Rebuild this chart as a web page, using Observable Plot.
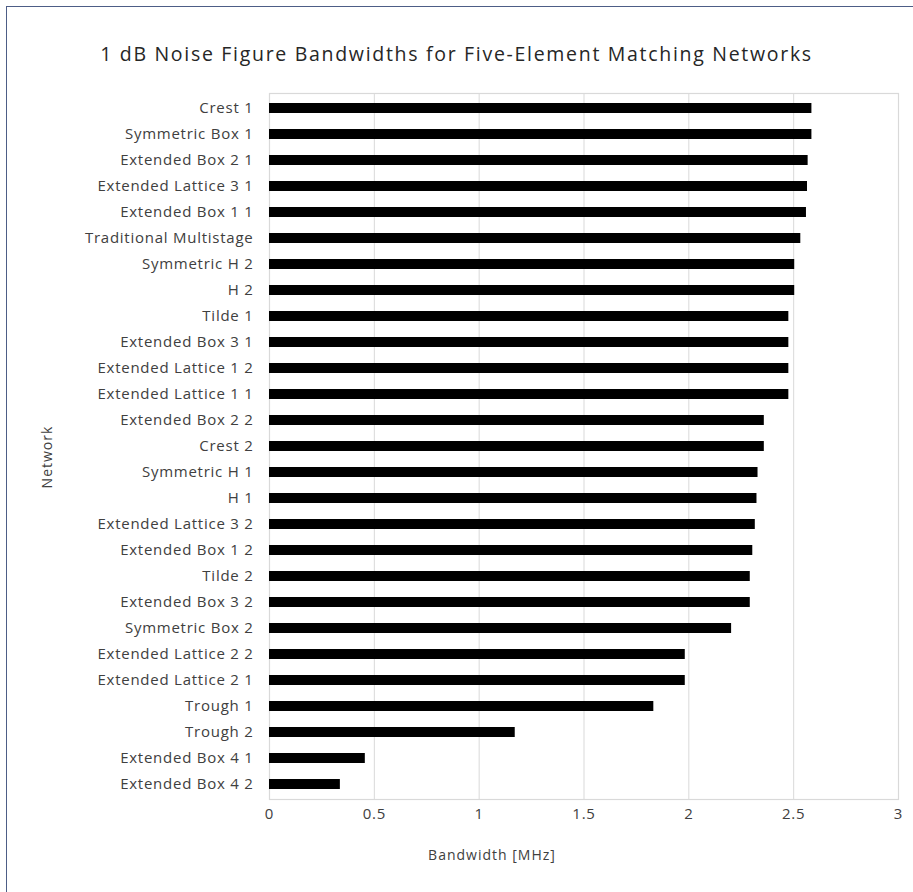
<!DOCTYPE html>
<html>
<head>
<meta charset="utf-8">
<script src="https://cdn.jsdelivr.net/npm/d3@7"></script>
<script src="https://cdn.jsdelivr.net/npm/@observablehq/plot@0.6"></script>
<style>
  body { margin: 0; background: #fff; }
  #chart { position: relative; width: 913px; height: 892px; overflow: hidden; font-family: "Open Sans", Lato, sans-serif; color: #404040; }
  #chart .border { position: absolute; left: 6px; top: 6px; width: 940px; height: 920px; border-left: 1.5px solid #4d5d86; border-top: 1.5px solid #4d5d86; box-sizing: border-box; }
  #chart svg { position: absolute; left: 0; top: 0; }
  #chart .title { position: absolute; left: 0; width: 913px; top: 40px; text-align: center; font-size: 19.5px; letter-spacing: 1.7px; color: #262626; white-space: nowrap; }
  #chart .xlabel { position: absolute; left: 492px; top: 845px; transform: translateX(-50%); font-size: 14px; letter-spacing: 1px; white-space: nowrap; }
  #chart .ylabel { position: absolute; left: 46px; top: 457px; transform: translate(-50%, -50%) rotate(-90deg); font-size: 14px; letter-spacing: 1px; white-space: nowrap; }
</style>
</head>
<body>
<div id="chart">
  <div class="border"></div>
  <div class="title">1 dB Noise Figure Bandwidths for Five-Element Matching Networks</div>
  <div class="xlabel">Bandwidth [MHz]</div>
  <div class="ylabel">Network</div>
</div>
<script>
// Networks, top to bottom
const networks = [
  "Crest 1",
  "Symmetric Box 1",
  "Extended Box 2 1",
  "Extended Lattice 3 1",
  "Extended Box 1 1",
  "Traditional Multistage",
  "Symmetric H 2",
  "H 2",
  "Tilde 1",
  "Extended Box 3 1",
  "Extended Lattice 1 2",
  "Extended Lattice 1 1",
  "Extended Box 2 2",
  "Crest 2",
  "Symmetric H 1",
  "H 1",
  "Extended Lattice 3 2",
  "Extended Box 1 2",
  "Tilde 2",
  "Extended Box 3 2",
  "Symmetric Box 2",
  "Extended Lattice 2 2",
  "Extended Lattice 2 1",
  "Trough 1",
  "Trough 2",
  "Extended Box 4 1",
  "Extended Box 4 2"
];

// 1 dB noise figure bandwidth of each network, MHz
const bandwidths = [
  2.587, 2.587, 2.569, 2.566, 2.561, 2.534, 2.505, 2.505, 2.477,
  2.477, 2.477, 2.477, 2.360, 2.360, 2.330, 2.325, 2.317, 2.305,
  2.293, 2.293, 2.204, 1.983, 1.983, 1.833, 1.172, 0.457, 0.338
];

const xTicks = [0, 0.5, 1, 1.5, 2, 2.5, 3];

const rows = networks.map((network, i) => ({network, bandwidth: bandwidths[i]}));

const chart = Plot.plot({
  width: 913,
  height: 892,
  marginLeft: 269,
  marginRight: 15,
  marginTop: 93,
  marginBottom: 93,
  style: {background: "transparent", fontFamily: "'Open Sans', Lato, sans-serif", fontSize: "15px", letterSpacing: "0.75px", color: "#404040"},
  x: {domain: [0, 3]},
  y: {domain: networks, paddingInner: 0.62, paddingOuter: 0.31, align: 0.5},
  marks: [
    Plot.gridX(xTicks, {stroke: "#d9d9d9", strokeOpacity: 1}),
    Plot.frame({stroke: "#d9d9d9", strokeWidth: 1.2}),
    Plot.barX(rows, {x: "bandwidth", y: "network", fill: "#000"}),
    Plot.axisX(xTicks, {tickSize: 0, tickPadding: 9, tickFormat: d => String(d), label: null}),
    Plot.axisY({tickSize: 0, tickPadding: 16, label: null})
  ]
});

document.getElementById("chart").appendChild(chart);
</script>
</body>
</html>
